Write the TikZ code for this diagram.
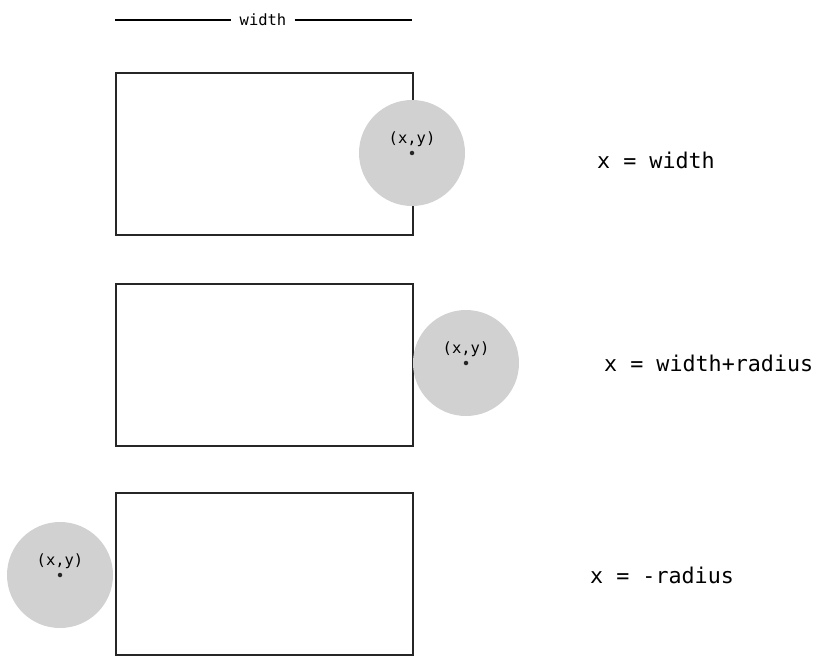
\documentclass[tikz,border=0pt]{standalone}
\usepackage{fontspec}
\setmonofont{DejaVu Sans Mono}
\begin{document}
\begin{tikzpicture}[x=1pt,y=-1pt,
  box/.style={draw=black!85,line width=1.6pt,minimum width=297pt,minimum height=162pt,inner sep=0pt,anchor=north west},
  ball/.style={circle,fill=black!18,draw=none,minimum size=106pt,inner sep=0pt},
  pt/.style={circle,fill=black!85,minimum size=4.5pt,inner sep=0pt},
  lbl/.style={font=\ttfamily\fontsize{15.5}{15.5}\selectfont,inner sep=0pt},
  eq/.style={font=\ttfamily\fontsize{21.7}{21.7}\selectfont,anchor=west,inner sep=0pt}]
\useasboundingbox (0,0) rectangle (818,655);
% top width indicator
\node[lbl] (w) at (263,20) {width};
\coordinate (wl) at (115,20);
\coordinate (wr) at (412,20);
\draw[line width=1.8pt] (wl) -- ([xshift=-8pt]w.west);
\draw[line width=1.8pt] ([xshift=8pt]w.east) -- (wr);
% rectangles
\node[box] (r1) at (115,72) {};
\node[box] (r2) at (115,283) {};
\node[box] (r3) at (115,492) {};
% circles
\node[ball] (c1) at (412,153) {};
\node[pt] (p1) at (c1.center) {};
\node[lbl] (t1) at (412,139) {(x,y)};
\node[ball] (c2) at (466,363) {};
\node[pt] (p2) at (c2.center) {};
\node[lbl] (t2) at (466,349) {(x,y)};
\node[ball] (c3) at (60,575) {};
\node[pt] (p3) at (c3.center) {};
\node[lbl] (t3) at (60,561) {(x,y)};
% equations
\node[eq] (e1) at (597,160) {x = width};
\node[eq] (e2) at (604,363) {x = width+radius};
\node[eq] (e3) at (590,575) {x = -radius};
\end{tikzpicture}
\end{document}
